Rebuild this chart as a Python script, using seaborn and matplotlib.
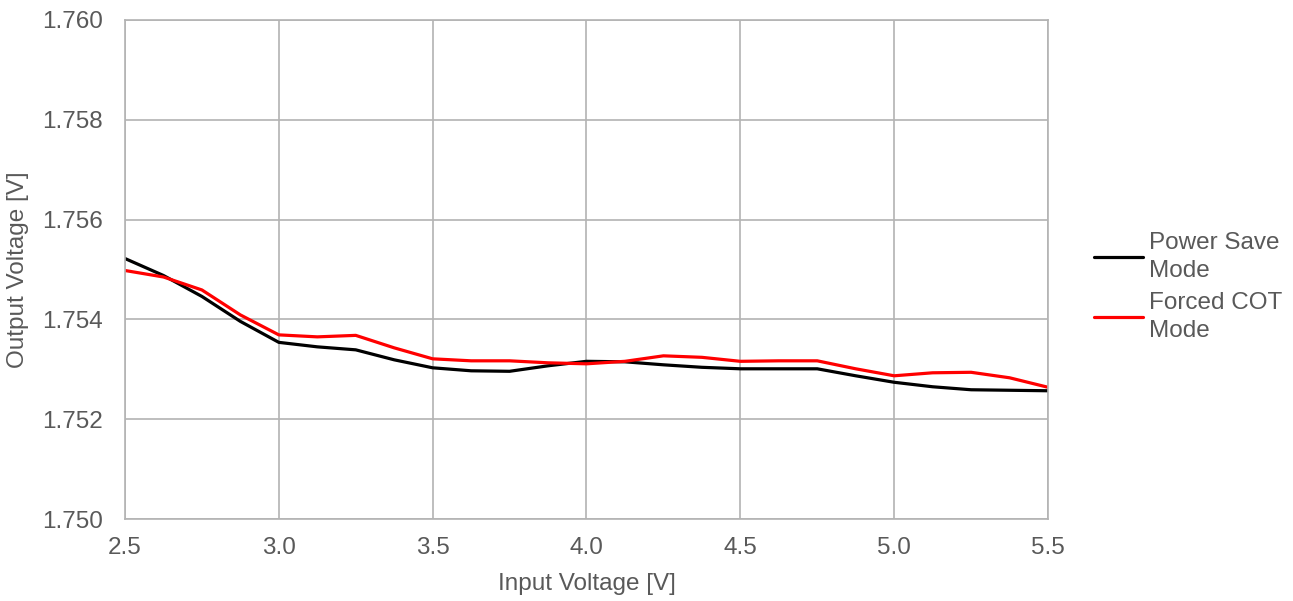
import matplotlib
matplotlib.use("Agg")
import matplotlib.pyplot as plt
import matplotlib.ticker as mticker
import seaborn as sns
import pandas as pd

# values
vin = [2.5, 2.625, 2.75, 2.875, 3.0, 3.125, 3.25, 3.375, 3.5, 3.625, 3.75, 3.875,
       4.0, 4.125, 4.25, 4.375, 4.5, 4.625, 4.75, 4.875, 5.0, 5.125, 5.25, 5.375, 5.5]
power_save = [1.75522, 1.75488, 1.75446, 1.75396, 1.75354, 1.75345, 1.75339, 1.75319,
              1.75303, 1.75297, 1.75296, 1.75307, 1.75316, 1.75315, 1.75309, 1.75304,
              1.75301, 1.75301, 1.75301, 1.75287, 1.75274, 1.75265, 1.75259, 1.75258,
              1.75257]
forced_cot = [1.75498, 1.75485, 1.75459, 1.75409, 1.75369, 1.75365, 1.75368, 1.75343,
              1.75321, 1.75317, 1.75317, 1.75313, 1.75311, 1.75316, 1.75327, 1.75324,
              1.75316, 1.75317, 1.75317, 1.75301, 1.75287, 1.75293, 1.75294, 1.75283,
              1.75264]
series_names = ["Power Save\nMode", "Forced COT\nMode"]
series_colors = ["#000000", "#ff0000"]

df = pd.concat([
    pd.DataFrame({"vin": vin, "vout": power_save, "mode": series_names[0]}),
    pd.DataFrame({"vin": vin, "vout": forced_cot, "mode": series_names[1]}),
])

sns.set_style("white")
plt.rcParams["font.family"] = ["Liberation Sans", "DejaVu Sans"]

txt = "#595959"
grid = "#b3b3b3"
fs = 17.5

fig = plt.figure(figsize=(12.93, 6.01), dpi=100)
ax = fig.add_axes([125 / 1293, 1 - 519 / 601, (1048 - 125) / 1293, (519 - 20) / 601])

sns.lineplot(data=df, x="vin", y="vout", hue="mode", hue_order=series_names,
             palette=series_colors, linewidth=2.3, ax=ax, legend=False)

ax.set_xlim(2.5, 5.5)
ax.set_ylim(1.750, 1.760)
ax.xaxis.set_major_locator(mticker.MultipleLocator(0.5))
ax.yaxis.set_major_locator(mticker.MultipleLocator(0.002))
ax.xaxis.set_major_formatter(mticker.FormatStrFormatter("%.1f"))
ax.yaxis.set_major_formatter(mticker.FormatStrFormatter("%.3f"))
ax.grid(True, color=grid, linewidth=1.2)
ax.set_axisbelow(True)
for s in ax.spines.values():
    s.set_color(grid)
    s.set_linewidth(1.2)
ax.tick_params(axis="both", length=0, labelsize=fs, labelcolor=txt)
ax.tick_params(axis="y", pad=16)
ax.tick_params(axis="x", pad=13)
ax.set_xlabel("Input Voltage [V]", fontsize=fs, color=txt, labelpad=10)
ax.set_ylabel("Output Voltage [V]", fontsize=fs, color=txt, labelpad=9)

handles = [plt.Line2D([], [], color=c, linewidth=2.3) for c in series_colors]
leg = fig.legend(handles, series_names, loc="center left",
                 bbox_to_anchor=(1082 / 1293, 1 - 287 / 601), frameon=False,
                 fontsize=fs, labelcolor=txt, handlelength=2.0, handletextpad=0.25,
                 labelspacing=0.45, borderpad=0)
for t in leg.get_texts():
    t.set_linespacing(1.35)

fig.savefig("out.png", dpi=100)
